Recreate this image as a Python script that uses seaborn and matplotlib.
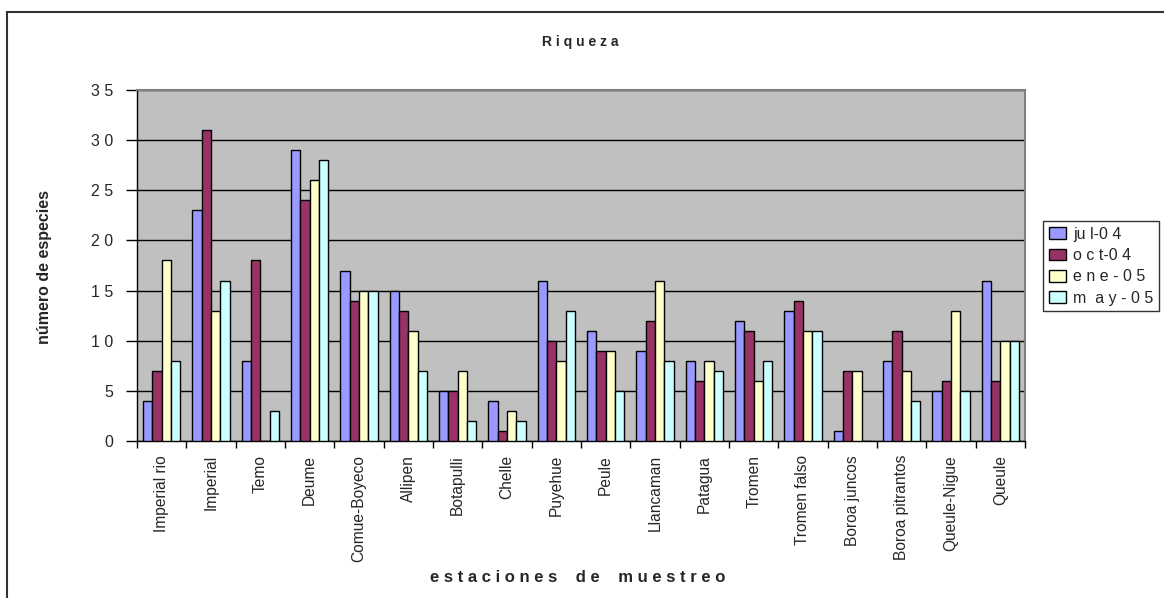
import numpy as np
import pandas as pd
import matplotlib
matplotlib.use("Agg")
import matplotlib.pyplot as plt
from matplotlib.lines import Line2D
from matplotlib.patches import Patch
import seaborn as sns

# Species richness per sampling station and campaign
stations = ["Imperial rio", "Imperial", "Temo", "Deume", "Comue-Boyeco", "Allipen",
            "Botapulli", "Chelle", "Puyehue", "Peule", "Llancaman", "Patagua",
            "Tromen", "Tromen falso", "Boroa juncos", "Boroa pitrantos",
            "Queule-Nigue", "Queule"]
jul_04 = [4, 23, 8, 29, 17, 15, 5, 4, 16, 11, 9, 8, 12, 13, 1, 8, 5, 16]
oct_04 = [7, 31, 18, 24, 14, 13, 5, 1, 10, 9, 12, 6, 11, 14, 7, 11, 6, 6]
ene_05 = [18, 13, 0, 26, 15, 11, 7, 3, 8, 9, 16, 8, 6, 11, 7, 7, 13, 10]
may_05 = [8, 16, 3, 28, 15, 7, 2, 2, 13, 5, 8, 7, 8, 11, 0, 4, 5, 10]
campaigns = ["jul-04", "oct-04", "ene-05", "may-05"]
colors = ["#9999FF", "#993366", "#FFFFCC", "#CCFFFF"]
yticks = [0, 5, 10, 15, 20, 25, 30, 35]


def spaced(s, sep=" "):
    return sep.join(s)


series = [jul_04, oct_04, ene_05, may_05]
df = pd.DataFrame({
    "estacion": np.repeat([stations], len(campaigns), axis=0).ravel(),
    "campana": np.repeat(campaigns, len(stations)),
    "valor": np.concatenate(series),
})

sns.set_style("white")
plt.rcParams["font.family"] = ["Liberation Sans", "DejaVu Sans"]

fig = plt.figure(figsize=(11.64, 5.98), dpi=100)
ax = fig.add_axes([137 / 1164, 1 - 441 / 598, 888 / 1164, 351 / 598])
ax.set_facecolor("#C0C0C0")

sns.barplot(data=df, x="estacion", y="valor", hue="campana", order=stations,
            hue_order=campaigns, palette=colors, width=0.76, gap=0,
            edgecolor="black", linewidth=1.0, saturation=1, errorbar=None,
            legend=False, ax=ax, zorder=3)

ax.set_xlim(-0.5, len(stations) - 0.5)
ax.set_ylim(0, 35)
ax.set_yticks(yticks)
ax.set_yticklabels([spaced(str(v)) for v in yticks], fontsize=11.5)
ax.yaxis.grid(True, color="black", linewidth=1.0, zorder=0)
ax.set_axisbelow(True)
ax.tick_params(axis="y", left=True, length=8, width=1, color="black", pad=9)

ax.set_xticks(range(len(stations)))
ax.set_xticklabels(stations, rotation=90, fontsize=11.2)
ax.set_xticks(np.arange(-0.5, len(stations), 1), minor=True)
ax.tick_params(axis="x", which="major", length=0, pad=10)
ax.tick_params(axis="x", which="minor", bottom=True, length=5, width=1, color="black")

for side in ("left", "bottom"):
    ax.spines[side].set_color("black")
    ax.spines[side].set_linewidth(1.0)
for side in ("top", "right"):
    ax.spines[side].set_color("#808080")
    ax.spines[side].set_linewidth(1.5)

ax.set_xlabel("")
ax.set_ylabel("")
fig.text(580 / 1164, 1 - 42 / 598, spaced("Riqueza"), ha="center", va="center",
         fontsize=10, fontweight="bold")
fig.text(45 / 1164, 1 - 267 / 598, "número de especies", rotation=90,
         ha="center", va="center", fontsize=11.5, fontweight="bold")
fig.text(578 / 1164, 1 - 578 / 598,
         "    ".join([spaced(w) for w in ["estaciones", "de", "muestreo"]]),
         ha="center", va="center", fontsize=12, fontweight="bold")

handles = [Patch(facecolor=c, edgecolor="black", linewidth=1) for c in colors]
labels = ["ju l-0 4", "o c t-0 4", "e n e - 0 5", "m  a y - 0 5"]
leg = fig.legend(handles, labels, loc="upper left",
                 bbox_to_anchor=(1043 / 1164, 1 - 221 / 598), fontsize=11.5,
                 frameon=True, fancybox=False, borderpad=0.35, labelspacing=0.4,
                 handlelength=1.1, handleheight=0.75, handletextpad=0.45,
                 borderaxespad=0)
leg.get_frame().set_edgecolor("black")
leg.get_frame().set_linewidth(1.0)

# chart area border (left and top edges fall inside the image)
fig.add_artist(Line2D([7 / 1164, 7 / 1164], [0, 1 - 12 / 598],
                      transform=fig.transFigure, color="#333333", linewidth=1.5))
fig.add_artist(Line2D([7 / 1164, 1], [1 - 12 / 598, 1 - 12 / 598],
                      transform=fig.transFigure, color="#333333", linewidth=1.5))

fig.savefig("out.png", dpi=100, facecolor="white")
